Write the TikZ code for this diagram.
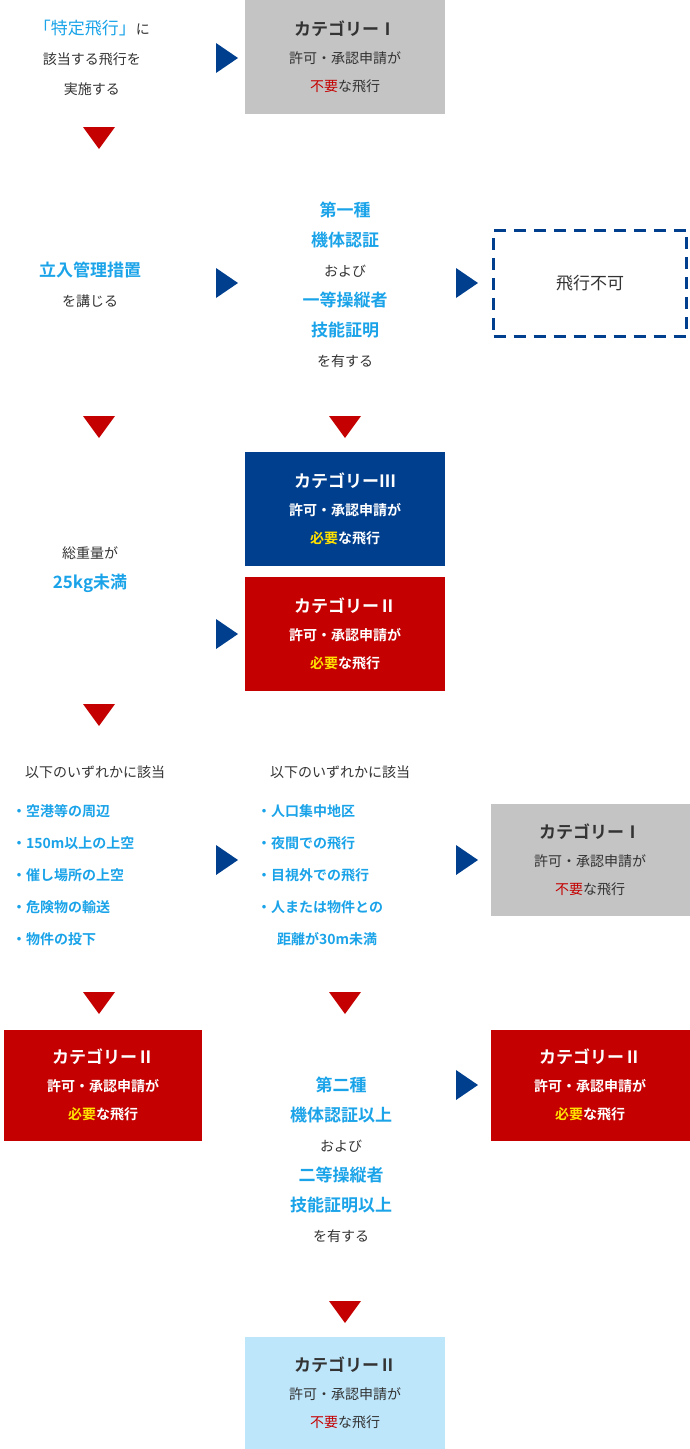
\documentclass[tikz,border=0pt]{standalone}
\usepackage{fontspec}
\setmainfont{Noto Sans CJK JP}[BoldFont={Noto Sans CJK JP Bold}]
\definecolor{cyanT}{HTML}{1AA3E8}
\definecolor{navy}{HTML}{003F8E}
\definecolor{redC}{HTML}{C40000}
\definecolor{grayC}{HTML}{C4C4C4}
\definecolor{skyC}{HTML}{BEE6FB}
\definecolor{yelT}{HTML}{FFE000}
\definecolor{txt}{HTML}{333333}
\newcommand{\ttl}[1]{{\fontsize{17}{29}\selectfont\bfseries #1}}
\newcommand{\hl}[1]{{\color{cyanT}\fontsize{17}{30}\selectfont\bfseries #1}}
\tikzset{
  catbox/.style={minimum width=200pt, minimum height=114pt, align=center,
    font=\fontsize{14}{28}\selectfont\bfseries, inner sep=0pt},
  plain/.style={align=center, text=txt, font=\fontsize{14}{30}\selectfont, inner sep=0pt},
  item/.style={anchor=west, text=cyanT, font=\fontsize{14}{16}\selectfont\bfseries, inner sep=0pt},
  head/.style={text=txt, font=\fontsize{14}{16}\selectfont, inner sep=0pt},
}
\newcommand{\rarr}[2]{\fill[navy] (#1-11,#2-15) -- (#1+11,#2) -- (#1-11,#2+15) -- cycle;}
\newcommand{\darr}[2]{\fill[redC] (#1-16,#2-11) -- (#1+16,#2-11) -- (#1,#2+11) -- cycle;}
\begin{document}
\begin{tikzpicture}[x=1pt,y=-1pt]
\useasboundingbox (0,0) rectangle (690,1449);

% Row 1
\node[plain] (r1) at (92,58) {{\color{cyanT}\fontsize{17}{30}\selectfont 「特定飛行」}に\\該当する飛行を\\実施する};
\rarr{227}{58}
\node[catbox, fill=grayC, text=txt] (c1) at (345,57) {\ttl{カテゴリーⅠ}\\{\mdseries 許可・承認申請が}\\{\mdseries\color{redC}不要}{\mdseries な飛行}};
\darr{99}{138}

% Row 2
\node[plain] (r2) at (90,285) {\hl{立入管理措置}\\を講じる};
\rarr{227}{283}
\node[plain] (lic1) at (345,285) {\hl{第一種}\\\hl{機体認証}\\および\\\hl{一等操縦者}\\\hl{技能証明}\\を有する};
\rarr{467}{283}
\node[draw=navy, line width=3pt, dash pattern=on 12pt off 8pt, minimum width=193pt,
  minimum height=106pt, text=txt, font=\fontsize{17}{20}\selectfont] (ng) at (590,283) {飛行不可};
\darr{99}{427}
\darr{345}{427}

% Row 3
\node[catbox, fill=navy, text=white] (c3) at (345,509) {\ttl{カテゴリーⅢ}\\許可・承認申請が\\{\color{yelT}必要}な飛行};
\node[plain] (r3) at (90,570) {総重量が\\\hl{25kg未満}};
\rarr{227}{634}
\node[catbox, fill=redC, text=white] (c2a) at (345,634) {\ttl{カテゴリーⅡ}\\許可・承認申請が\\{\color{yelT}必要}な飛行};
\darr{99}{715}

% Row 4
\node[head] (hL) at (95,772) {以下のいずれかに該当};
\node[item] (a1) at (12,811) {・空港等の周辺};
\node[item] (a2) at (12,843) {・150m以上の上空};
\node[item] (a3) at (12,875) {・催し場所の上空};
\node[item] (a4) at (12,907) {・危険物の輸送};
\node[item] (a5) at (12,939) {・物件の投下};
\rarr{227}{860}
\node[head] (hM) at (340,772) {以下のいずれかに該当};
\node[item] (b1) at (257,811) {・人口集中地区};
\node[item] (b2) at (257,843) {・夜間での飛行};
\node[item] (b3) at (257,875) {・目視外での飛行};
\node[item] (b4) at (257,907) {・人または物件との};
\node[item] (b5) at (277,939) {距離が30m未満};
\rarr{467}{860}
\node[catbox, fill=grayC, text=txt, minimum width=199pt, minimum height=112pt] (c1b) at (590,860) {\ttl{カテゴリーⅠ}\\{\mdseries 許可・承認申請が}\\{\mdseries\color{redC}不要}{\mdseries な飛行}};
\darr{99}{1003}
\darr{345}{1003}

% Row 5
\node[catbox, fill=redC, text=white, minimum width=198pt, minimum height=111pt] (c2b) at (103,1085) {\ttl{カテゴリーⅡ}\\許可・承認申請が\\{\color{yelT}必要}な飛行};
\node[plain] (lic2) at (341,1160) {\hl{第二種}\\\hl{機体認証以上}\\および\\\hl{二等操縦者}\\\hl{技能証明以上}\\を有する};
\rarr{467}{1085}
\node[catbox, fill=redC, text=white, minimum width=199pt, minimum height=111pt] (c2c) at (590,1085) {\ttl{カテゴリーⅡ}\\許可・承認申請が\\{\color{yelT}必要}な飛行};
\darr{345}{1312}

% Row 6
\node[catbox, fill=skyC, text=txt, minimum height=112pt] (c2d) at (345,1393) {\ttl{カテゴリーⅡ}\\{\mdseries 許可・承認申請が}\\{\mdseries\color{redC}不要}{\mdseries な飛行}};
\end{tikzpicture}
\end{document}
